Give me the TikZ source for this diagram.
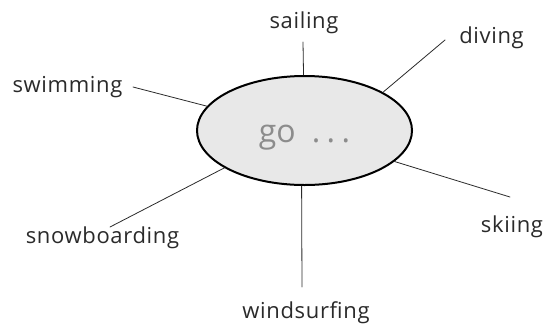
\documentclass[tikz,border=0pt]{standalone}
\usepackage{fontspec}
\setmainfont{Open Sans}
\newfontfamily\labelfont{Open Sans}[LetterSpace=3]
\usetikzlibrary{shapes.geometric}
\definecolor{labelgray}{HTML}{2A2A2A}
\definecolor{gogray}{HTML}{8C8C8C}
\definecolor{ovalfill}{HTML}{E8E8E8}
\begin{document}
\begin{tikzpicture}[x=1pt,y=-1pt,line join=round,line cap=round]
  \tikzset{word/.style={anchor=base,inner sep=0pt,text=labelgray,font=\labelfont\fontsize{22}{26}\selectfont},
    spoke/.style={draw=labelgray,line width=0.8pt},
    oval/.style={ellipse,draw=black,line width=2pt,fill=ovalfill,minimum width=215pt,minimum height=109pt,inner sep=0pt,text=gogray,font=\fontsize{32}{38}\selectfont,text height=23pt,text depth=0pt}}
  \useasboundingbox (0,0) rectangle (551,325);
  \node[oval] (go) at (304.5,130.5) {go\hspace{0.5em}.\hspace{0.2em}.\hspace{0.2em}.};
  \foreach \name/\x/\y/\ex/\ey/\ang in {sailing/304/28/303/42/91,diving/491.5/43/445/40/26,swimming/67.5/92/133/87/166,snowboarding/102.5/243/110/227/205,skiing/512/232/510/197/341,windsurfing/306/318/302/287/267}
  {
    \node[word] (\name) at (\x,\y) {\name};
    \coordinate (\name-end) at (\ex,\ey);
    \draw[spoke] (\name-end) -- (go.\ang);
  }
\end{tikzpicture}
\end{document}
